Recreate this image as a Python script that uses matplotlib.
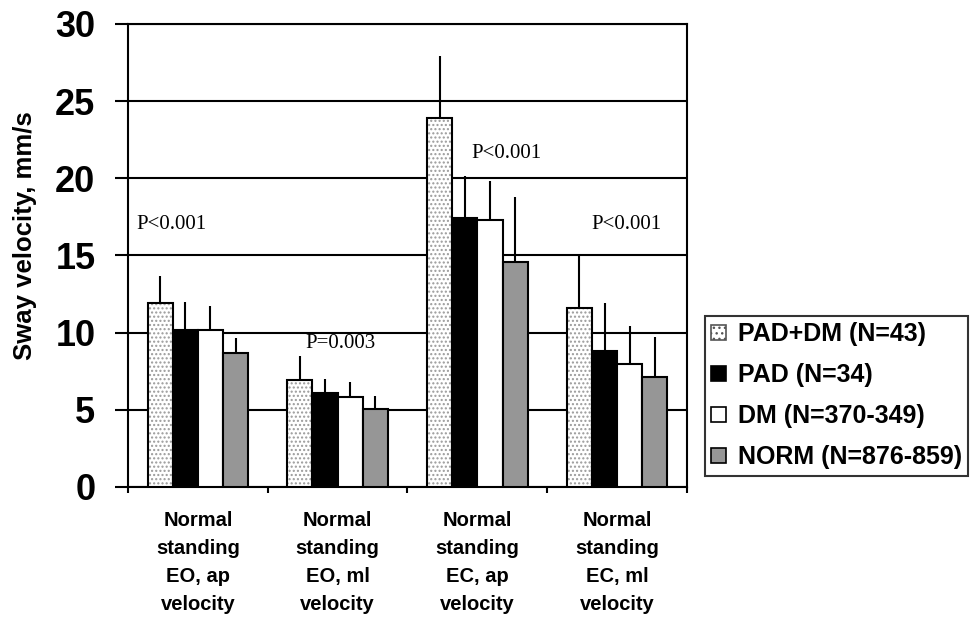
import numpy as np
import matplotlib
matplotlib.use("Agg")
import matplotlib.pyplot as plt
from matplotlib.patches import Patch

# data
categories = ["Normal\nstanding\nEO, ap\nvelocity",
              "Normal\nstanding\nEO, ml\nvelocity",
              "Normal\nstanding\nEC, ap\nvelocity",
              "Normal\nstanding\nEC, ml\nvelocity"]
groups = ["PAD+DM (N=43)", "PAD (N=34)", "DM (N=370-349)", "NORM (N=876-859)"]

pad_dm = [11.9, 6.9, 23.9, 11.6]
pad = [10.2, 6.1, 17.4, 8.8]
dm = [10.2, 5.85, 17.3, 8.0]
norm = [8.7, 5.05, 14.6, 7.1]

# upper error bar ends
pad_dm_top = [13.7, 8.5, 27.9, 15.1]
pad_top = [12.0, 7.0, 20.15, 11.9]
dm_top = [11.7, 6.8, 19.8, 10.4]
norm_top = [9.65, 5.9, 18.8, 9.7]

p_labels = ["P<0.001", "P=0.003", "P<0.001", "P<0.001"]
p_pos_y = [17.0, 9.3, 21.6, 17.0]
p_pos_dx = [-0.19, 0.02, 0.21, 0.07]

means = [pad_dm, pad, dm, norm]
tops = [pad_dm_top, pad_top, dm_top, norm_top]
colors = ["white", "black", "white", "#969696"]

fig = plt.figure(figsize=(9.71, 6.21), dpi=100)
ax = fig.add_axes([0.1318, 0.2158, 0.5757, 0.7456])

x = np.arange(len(categories))
w = 0.18
offsets = (np.arange(4) - 1.5) * w

for i in range(4):
    xs = x + offsets[i]
    if i == 0:
        # dotted fill first, then a black outline on top
        ax.bar(xs, means[i], w, color="white", edgecolor="#9a9a9a",
               hatch="....", linewidth=0, zorder=3)
        ax.bar(xs, means[i], w, facecolor="none", edgecolor="black",
               linewidth=1.5, zorder=4)
    else:
        ax.bar(xs, means[i], w, color=colors[i], edgecolor="black",
               linewidth=1.5, zorder=3)
    up = np.array(tops[i]) - np.array(means[i])
    ax.errorbar(xs, means[i], yerr=[np.zeros(4), up], fmt="none",
                ecolor="black", elinewidth=1.5, capsize=0, zorder=5)

for i, lab in enumerate(p_labels):
    ax.text(x[i] + p_pos_dx[i], p_pos_y[i], lab,
            family="Liberation Serif", fontsize=15, ha="center", va="center")

ax.set_xlim(-0.5, 3.5)
ax.set_ylim(0, 30)
ax.set_yticks(range(0, 31, 5))
ax.yaxis.grid(True, color="black", linewidth=1.5)
ax.set_axisbelow(True)

ax.set_xticks(x)
ax.set_xticklabels(categories, fontsize=14.5, fontweight="bold",
                   family="Liberation Sans", linespacing=1.62)
ax.set_xticks(np.arange(-0.5, 4.0, 1.0), minor=True)
ax.tick_params(axis="x", which="major", length=0, pad=17)
ax.tick_params(axis="x", which="minor", length=4.3, width=1.5, direction="out")
ax.tick_params(axis="y", length=9.4, width=1.5, direction="out", pad=14)
for t in ax.get_yticklabels():
    t.set_fontsize(26)
    t.set_fontweight("bold")
    t.set_family("Liberation Sans")

ax.set_ylabel("Sway velocity, mm/s", fontsize=18.5, fontweight="bold",
              family="Liberation Sans")
ax.yaxis.set_label_coords(-0.163, 0.542)

for s in ax.spines.values():
    s.set_linewidth(1.5)
    s.set_color("black")

handles = [Patch(facecolor="white", edgecolor="#555555", hatch="...", linewidth=1.2),
           Patch(facecolor="black", edgecolor="black", linewidth=1.2),
           Patch(facecolor="white", edgecolor="black", linewidth=1.2),
           Patch(facecolor="#969696", edgecolor="black", linewidth=1.2)]
leg = fig.legend(handles, groups, loc="upper left",
                 bbox_to_anchor=(705 / 971, 1 - 316 / 621),
                 prop={"family": "Liberation Sans", "weight": "bold", "size": 18},
                 frameon=True, fancybox=False, edgecolor="black",
                 handlelength=0.6, handleheight=0.6, handletextpad=0.45,
                 labelspacing=0.68, borderpad=0.25, borderaxespad=0)
leg.get_frame().set_linewidth(1.5)

fig.savefig("out.png", dpi=100)
